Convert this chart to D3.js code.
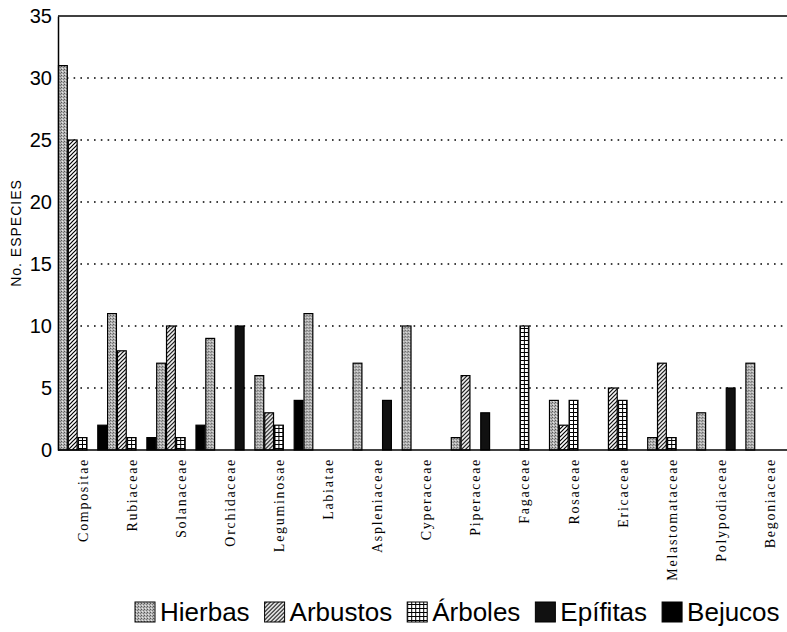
<!DOCTYPE html>
<html>
<head>
<meta charset="utf-8">
<script src="https://cdn.jsdelivr.net/npm/d3@7"></script>
<style>
  body { margin: 0; background: #fff; }
  svg { display: block; }
</style>
</head>
<body>
<div id="chart"></div>
<script>
// chart values
var families = ["Compositae", "Rubiaceae", "Solanaceae", "Orchidaceae", "Leguminosae",
    "Labiatae", "Aspleniaceae", "Cyperaceae", "Piperaceae", "Fagaceae",
    "Rosaceae", "Ericaceae", "Melastomataceae", "Polypodiaceae", "Begoniaceae"];
var seriesNames = ["Hierbas", "Arbustos", "Árboles", "Epífitas", "Bejucos"];
var hierbas  = [31, 11, 7, 9, 6, 11, 7, 10, 1, 0, 4, 0, 1, 3, 7];
var arbustos = [25, 8, 10, 0, 3, 0, 0, 0, 6, 0, 2, 5, 7, 0, 0];
var arboles  = [1, 1, 1, 0, 2, 0, 0, 0, 0, 10, 4, 4, 1, 0, 0];
var epifitas = [0, 0, 0, 10, 0, 0, 4, 0, 3, 0, 0, 0, 0, 5, 0];
var bejucos  = [2, 1, 2, 0, 4, 0, 0, 0, 0, 0, 0, 0, 0, 0, 0];
var yTicks = [0, 5, 10, 15, 20, 25, 30, 35];

var width = 787, height = 632;
var margin = {top: 16, left: 58, bottom: 182};
var bandW = 49.1;

var svg = d3.select("#chart").append("svg")
    .attr("width", width)
    .attr("height", height);

// fill patterns for each growth form
var defs = svg.append("defs");

var pH = defs.append("pattern").attr("id", "p0")
    .attr("patternUnits", "userSpaceOnUse").attr("width", 3).attr("height", 3);
pH.append("rect").attr("width", 3).attr("height", 3).attr("fill", "#b4b4b4");
pH.append("rect").attr("x", 0).attr("y", 0).attr("width", 1).attr("height", 1).attr("fill", "#555");
pH.append("rect").attr("x", 2).attr("y", 1).attr("width", 1).attr("height", 1).attr("fill", "#777");
pH.append("rect").attr("x", 1).attr("y", 2).attr("width", 1).attr("height", 1).attr("fill", "#e6e6e6");

var pA = defs.append("pattern").attr("id", "p1")
    .attr("patternUnits", "userSpaceOnUse").attr("width", 4).attr("height", 4);
pA.append("rect").attr("width", 4).attr("height", 4).attr("fill", "#fff");
pA.append("path").attr("d", "M-1,1 l2,-2 M0,4 l4,-4 M3,5 l2,-2")
    .attr("stroke", "#000").attr("stroke-width", 1.2);

var pT = defs.append("pattern").attr("id", "p2")
    .attr("patternUnits", "userSpaceOnUse").attr("width", 4).attr("height", 4);
pT.append("rect").attr("width", 4).attr("height", 4).attr("fill", "#fff");
pT.append("path").attr("d", "M0,0.5 H4 M0.5,0 V4")
    .attr("stroke", "#000").attr("stroke-width", 1);

var fills = ["url(#p0)", "url(#p1)", "url(#p2)", "#111", "#000"];

// scales
var x0 = d3.scaleBand()
    .domain(families)
    .range([margin.left, margin.left + families.length * bandW])
    .padding(0);

var x1 = d3.scaleBand()
    .domain(seriesNames)
    .range([0, x0.bandwidth()])
    .padding(0);

var y = d3.scaleLinear()
    .domain([0, 35])
    .range([height - margin.bottom, margin.top]);

// dotted gridlines
svg.append("g")
    .selectAll("line")
    .data(yTicks.filter(function (d) { return d > 0 && d < 35; }))
    .enter().append("line")
    .attr("x1", margin.left + 2)
    .attr("x2", width)
    .attr("y1", function (d) { return y(d); })
    .attr("y2", function (d) { return y(d); })
    .attr("stroke", "#000")
    .attr("stroke-width", 1.6)
    .attr("stroke-dasharray", "1.6,5.2");

// bars
var table = families.map(function (f, i) {
    return {family: f, values: [hierbas[i], arbustos[i], arboles[i], epifitas[i], bejucos[i]]};
});

var groups = svg.append("g").selectAll("g")
    .data(table)
    .enter().append("g")
    .attr("transform", function (d) { return "translate(" + x0(d.family) + ",0)"; });

groups.selectAll("rect")
    .data(function (d) {
        return d.values.map(function (v, k) { return {key: seriesNames[k], k: k, value: v}; })
            .filter(function (e) { return e.value > 0; });
    })
    .enter().append("rect")
    .attr("x", function (d) { return x1(d.key) + 0.5; })
    .attr("y", function (d) { return y(d.value); })
    .attr("width", x1.bandwidth() - 1)
    .attr("height", function (d) { return y(0) - y(d.value); })
    .attr("fill", function (d) { return fills[d.k]; })
    .attr("stroke", "#000")
    .attr("stroke-width", 1.2);

// frame: top line, left axis, baseline
svg.append("line").attr("x1", margin.left).attr("x2", width)
    .attr("y1", y(35)).attr("y2", y(35)).attr("stroke", "#000").attr("stroke-width", 1.5);
svg.append("line").attr("x1", margin.left).attr("x2", width)
    .attr("y1", y(0)).attr("y2", y(0)).attr("stroke", "#000").attr("stroke-width", 1.5);

var yAxis = svg.append("g")
    .attr("transform", "translate(" + margin.left + ",0)")
    .call(d3.axisLeft(y).tickValues(yTicks).tickSize(0).tickPadding(6));
yAxis.select(".domain").attr("stroke", "#000").attr("stroke-width", 1.5);
yAxis.selectAll("text")
    .attr("font-family", "'Liberation Sans', Arial, sans-serif")
    .attr("font-size", 20)
    .attr("fill", "#000");

// y title
svg.append("text")
    .attr("transform", "translate(21," + y(17.5) + ") rotate(-90)")
    .attr("text-anchor", "middle")
    .attr("font-family", "'Liberation Sans', Arial, sans-serif")
    .attr("font-size", 14)
    .attr("letter-spacing", 1)
    .text("No. ESPECIES");

// category labels, rotated
svg.append("g").selectAll("text")
    .data(families)
    .enter().append("text")
    .attr("transform", function (d) {
        return "translate(" + (x0(d) + x0.bandwidth() / 2 + 5) + "," + (y(0) + 8) + ") rotate(-90)";
    })
    .attr("text-anchor", "end")
    .attr("font-family", "'Liberation Serif', 'Times New Roman', serif")
    .attr("font-size", 14)
    .attr("letter-spacing", 1.7)
    .text(String);

// legend
var legend = svg.append("g").attr("transform", "translate(135,612)");
var lx = 0;
seriesNames.forEach(function (name, k) {
    var item = legend.append("g").attr("transform", "translate(" + lx + ",0)");
    item.append("rect")
        .attr("x", 0).attr("y", -10)
        .attr("width", 20).attr("height", 20)
        .attr("fill", fills[k])
        .attr("stroke", "#000")
        .attr("stroke-width", 1);
    var t = item.append("text")
        .attr("x", 25).attr("y", 9)
        .attr("font-family", "'Liberation Sans', Arial, sans-serif")
        .attr("font-size", 26)
        .text(name);
    lx += 25 + t.node().getComputedTextLength() + 15;
});
</script>
</body>
</html>
